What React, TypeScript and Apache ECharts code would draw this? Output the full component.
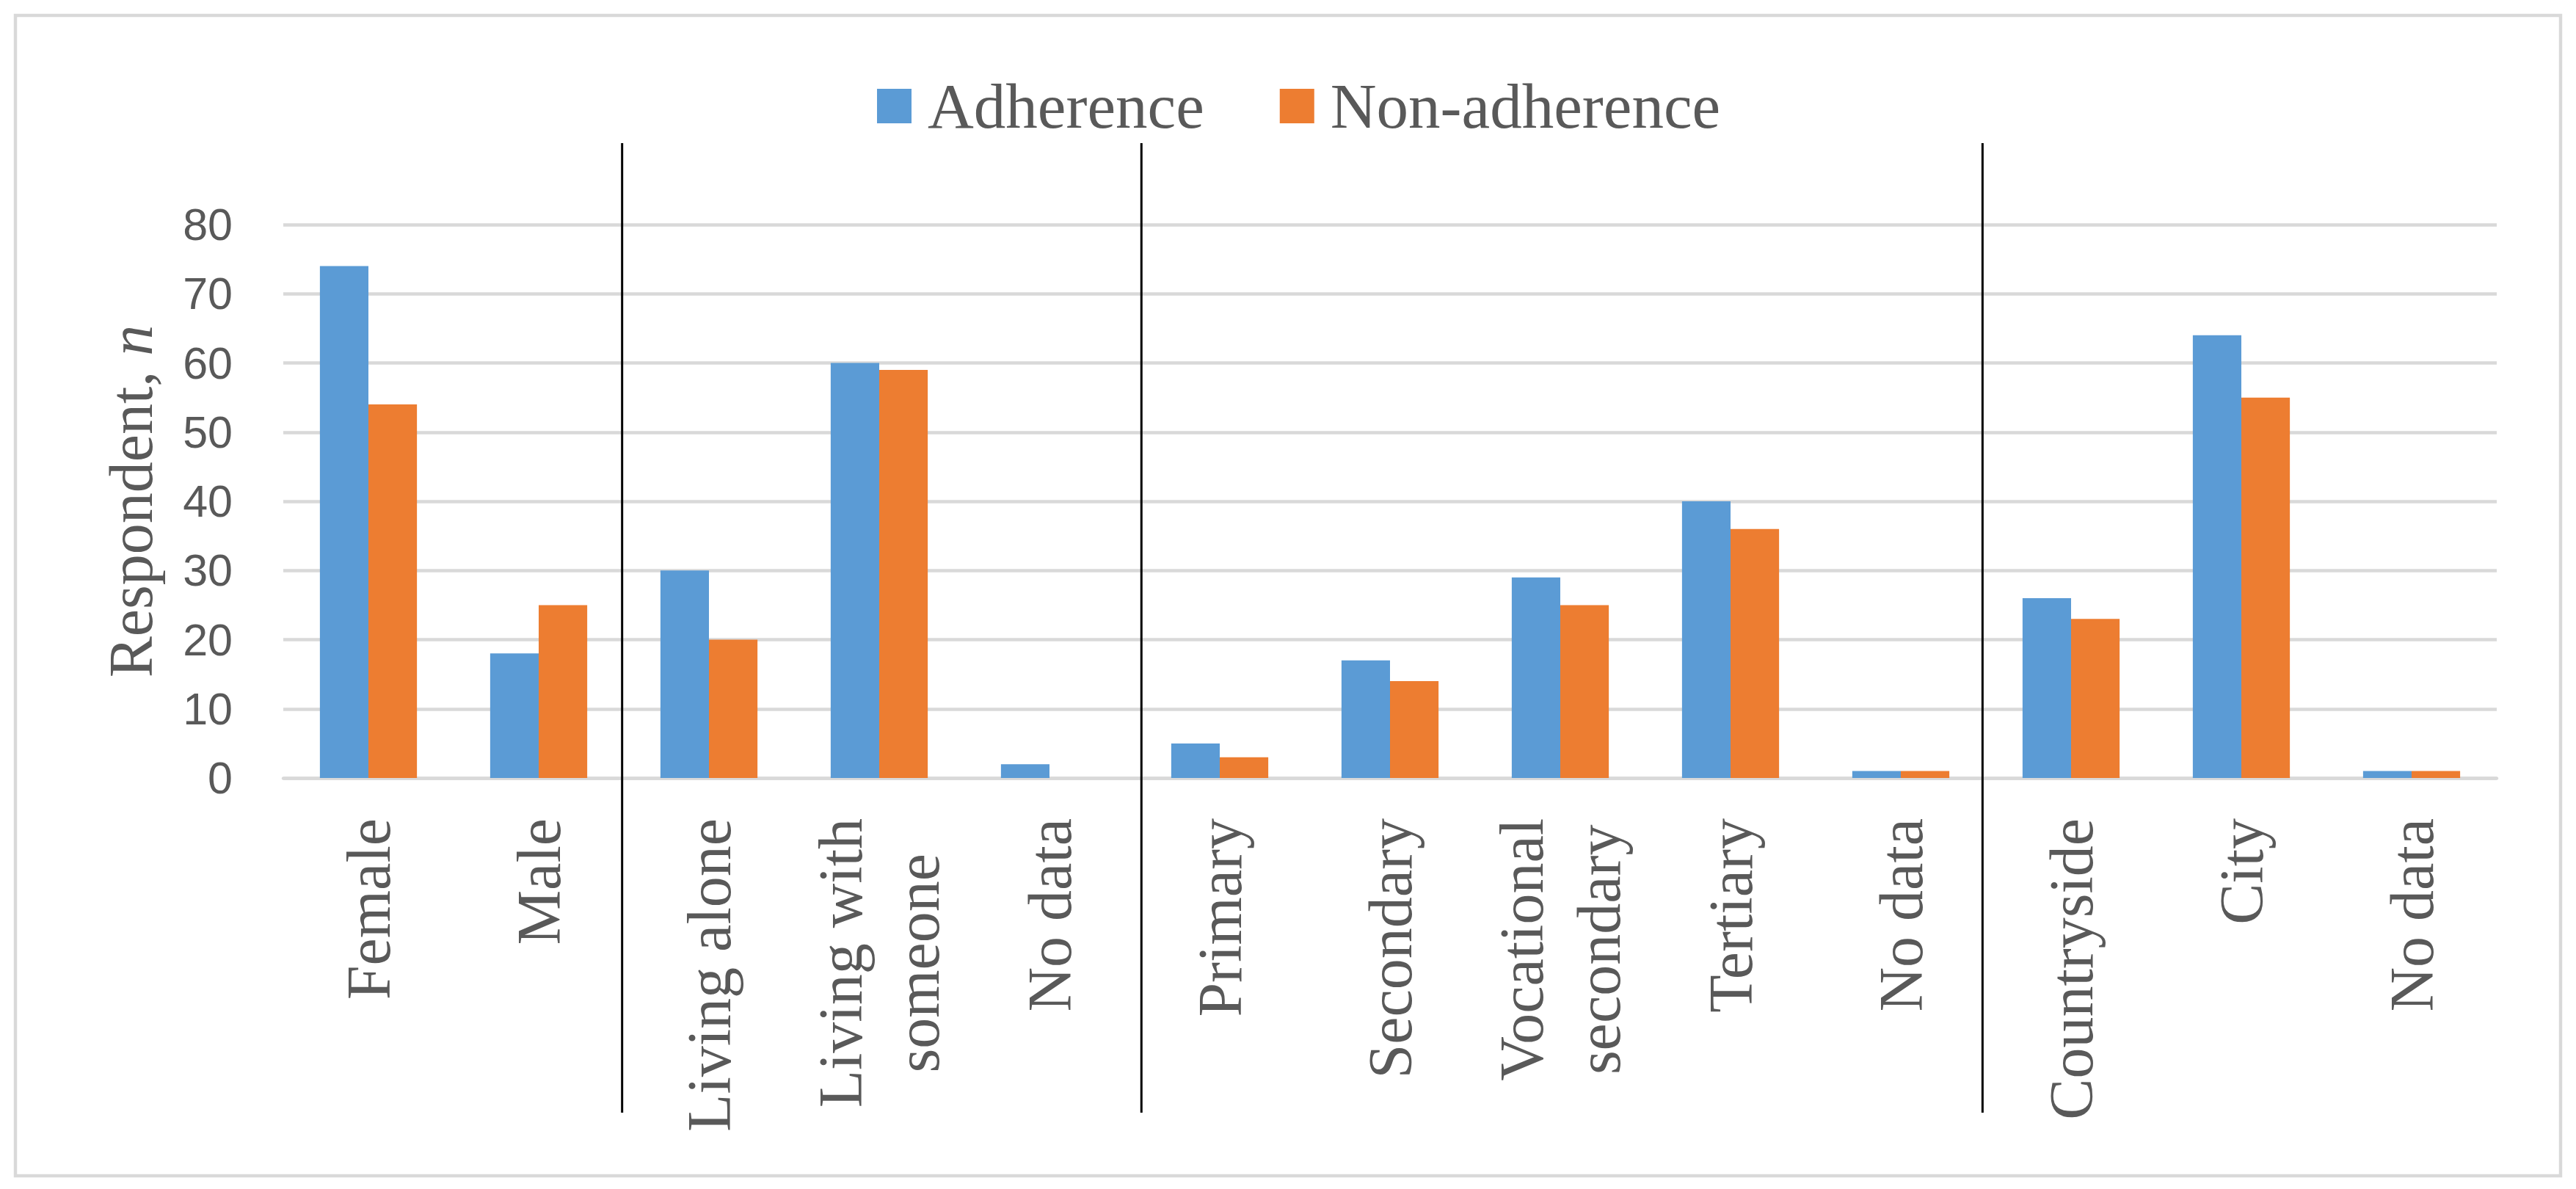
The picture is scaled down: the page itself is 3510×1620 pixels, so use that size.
import React, { useEffect, useRef } from "react";
import * as echarts from "echarts";

const categories = [
  "Female",
  "Male",
  "Living alone",
  "Living with\nsomeone",
  "No data",
  "Primary",
  "Secondary",
  "Vocational\nsecondary",
  "Tertiary",
  "No data",
  "Countryside",
  "City",
  "No data",
];
const adherence = [74, 18, 30, 60, 2, 5, 17, 29, 40, 1, 26, 64, 1];
const nonAdherence = [54, 25, 20, 59, 0, 3, 14, 25, 36, 1, 23, 55, 1];
const yTicks = { min: 0, max: 80, interval: 10 };
// separator positions, in category-slot units from the left of the plot
const separators = [1.99, 5.04, 9.98];

const SERIF = "'Liberation Serif', 'DejaVu Serif', serif";
const SANS = "'Liberation Sans', Arial, sans-serif";
const TEXT = "#595959";
const GRID = "#d9d9d9";

export default function App() {
  const ref = useRef<HTMLDivElement>(null);
  useEffect(() => {
    if (!ref.current) return;
    const chart = echarts.init(ref.current, null, { renderer: "svg" });
    chart.setOption({
      animation: false,
      backgroundColor: "#fff",
      graphic: [
        {
          type: "rect",
          shape: { x: 21, y: 21, width: 3468, height: 1581 },
          style: { fill: "none", stroke: GRID, lineWidth: 4.5 },
          silent: true,
        },
      ],
      legend: {
        data: ["Adherence", "Non-adherence"],
        left: 1195,
        top: 101,
        padding: 0,
        icon: "rect",
        itemWidth: 47,
        itemHeight: 47,
        itemGap: 103,
        textStyle: {
          fontFamily: SERIF,
          fontSize: 87,
          color: TEXT,
          padding: [0, 0, 0, 17],
        },
      },
      grid: [
        { left: 386, right: 108, top: 306, bottom: 560, containLabel: false },
        { left: 386, right: 108, top: 195, bottom: 104, containLabel: false },
      ],
      xAxis: [
        {
          type: "category",
          gridIndex: 0,
          data: categories,
          axisLine: { lineStyle: { color: GRID, width: 4.5 } },
          axisTick: { show: false },
          axisLabel: {
            interval: 0,
            rotate: 90,
            margin: 55,
            color: TEXT,
            fontFamily: SERIF,
            fontSize: 84,
            formatter: (v: string) =>
              v
                .split("\n")
                .map((l) => `{c|${l}}`)
                .join("\n"),
            rich: {
              c: {
                align: "center",
                fontFamily: SERIF,
                fontSize: 84,
                color: TEXT,
                lineHeight: 105,
              },
            },
          },
        },
        {
          type: "value",
          gridIndex: 1,
          min: 0,
          max: categories.length,
          show: false,
        },
      ],
      yAxis: [
        {
          type: "value",
          gridIndex: 0,
          min: yTicks.min,
          max: yTicks.max,
          interval: yTicks.interval,
          axisLine: { show: false },
          axisTick: { show: false },
          splitLine: { lineStyle: { color: GRID, width: 4.5 } },
          axisLabel: {
            color: TEXT,
            fontFamily: SANS,
            fontSize: 61,
            margin: 69,
          },
          name: "Respondent, {i|n}",
          nameLocation: "middle",
          nameGap: 166,
          nameTextStyle: {
            fontFamily: SERIF,
            fontSize: 84,
            color: TEXT,
            rich: {
              i: {
                fontStyle: "italic",
                fontFamily: SERIF,
                fontSize: 84,
                color: TEXT,
              },
            },
          },
        },
        {
          type: "value",
          gridIndex: 1,
          min: 0,
          max: 1,
          show: false,
        },
      ],
      series: [
        {
          name: "Adherence",
          type: "bar",
          xAxisIndex: 0,
          yAxisIndex: 0,
          data: adherence,
          itemStyle: { color: "#5B9BD5" },
          barGap: "0%",
          barCategoryGap: "43%",
        },
        {
          name: "Non-adherence",
          type: "bar",
          xAxisIndex: 0,
          yAxisIndex: 0,
          data: nonAdherence,
          itemStyle: { color: "#ED7D31" },
          barGap: "0%",
          barCategoryGap: "43%",
        },
        {
          name: "separators",
          type: "custom",
          xAxisIndex: 1,
          yAxisIndex: 1,
          silent: true,
          clip: false,
          data: separators.map((s) => [s, 0]),
          encode: { x: 0, y: 1 },
          renderItem: (params: any, api: any) => {
            const x = api.value(0);
            const p1 = api.coord([x, 1]);
            const p2 = api.coord([x, 0]);
            return {
              type: "line",
              shape: { x1: p1[0], y1: p1[1], x2: p2[0], y2: p2[1] },
              style: { stroke: "#000", lineWidth: 3 },
            };
          },
        },
      ],
    });
    return () => chart.dispose();
  }, []);
  return (
    <div
      ref={ref}
      style={{ position: "fixed", left: 0, top: 0, width: 3510, height: 1620 }}
    />
  );
}
